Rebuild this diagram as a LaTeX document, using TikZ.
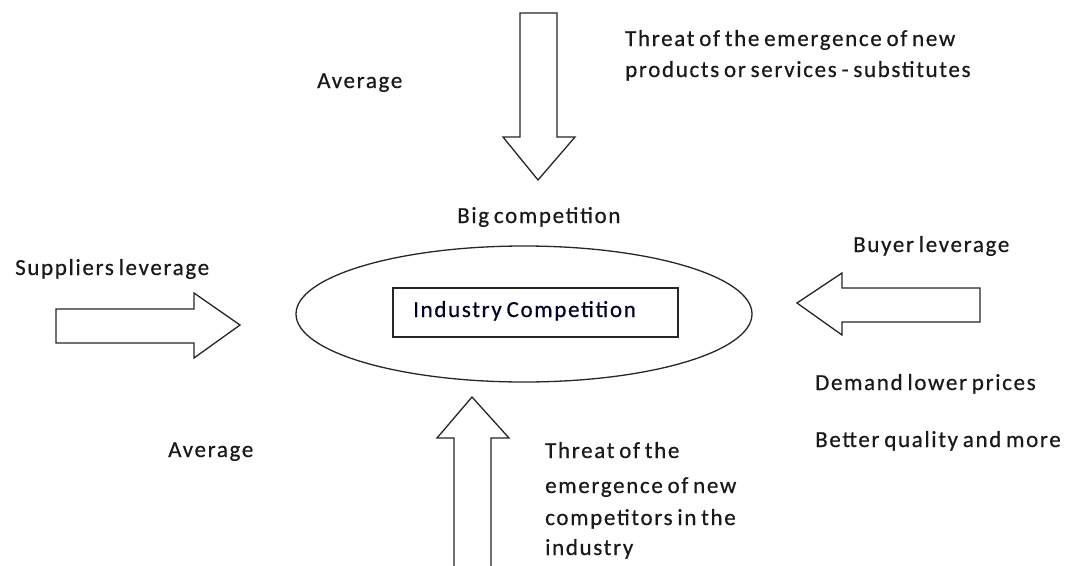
\documentclass[tikz,border=0pt]{standalone}
\usepackage{fontspec}
\setmainfont{Carlito}[LetterSpace=7.2,WordSpace=0.7,FakeBold=0.5]
\usetikzlibrary{shapes.geometric}
\begin{document}
\begin{tikzpicture}[x=1pt,y=-1pt,
  lbl/.style={anchor=base west,inner sep=0pt,font=\fontsize{23}{23}\selectfont,text=black!90},
  shp/.style={draw=black!85,line width=1.3pt,fill=white,line join=miter}]
\useasboundingbox (0,0) rectangle (1078,565);
\begin{scope}
\clip (0,0) rectangle (1078,565);
% top arrow (down)
\draw[shp] (520,13) -- (557,13) -- (557,137) -- (575,137) -- (538,180) -- (503,137) -- (520,137) -- cycle;
% left arrow (right)
\draw[shp] (56,309) -- (194,309) -- (194,293) -- (240,325) -- (194,358) -- (194,343) -- (56,343) -- cycle;
% right arrow (left)
\draw[shp] (980,288) -- (842,288) -- (842,273) -- (797,303) -- (842,335) -- (842,322) -- (980,322) -- cycle;
% bottom arrow (up)
\draw[shp] (454,580) -- (454,438) -- (437,438) -- (472,397) -- (509,438) -- (491,438) -- (491,580) -- cycle;
\end{scope}
% ellipse and box
\node[draw=black!85,line width=1.3pt,ellipse,minimum width=456pt,minimum height=136pt,inner sep=0pt] (ell) at (524,314) {};
\node[draw=black!85,line width=1.3pt,minimum width=285pt,minimum height=49pt,inner sep=0pt] (box) at (535.5,312.5) {};
\node[lbl,text=black!85!blue] (ic) at (413,317) {Industry Competition};
% labels
\node[lbl] (t1) at (625,46) {Threat of the emergence of new};
\node[lbl] (t2) at (625,77) {products or services - substitutes};
\node[lbl] (avg1) at (317,88) {Average};
\node[lbl] (big) at (457,223) {Big competition};
\node[lbl] (sup) at (15,275) {Suppliers leverage};
\node[lbl] (buy) at (853,252) {Buyer leverage};
\node[lbl] (dem) at (815,390) {Demand lower prices};
\node[lbl] (bet) at (815,447) {Better quality and more};
\node[lbl] (avg2) at (168,457) {Average};
\node[lbl] (b1) at (545,458) {Threat of the};
\node[lbl] (b2) at (545,493) {emergence of new};
\node[lbl] (b3) at (545,525) {competitors in the};
\node[lbl] (b4) at (545,555) {industry};
\end{tikzpicture}
\end{document}
